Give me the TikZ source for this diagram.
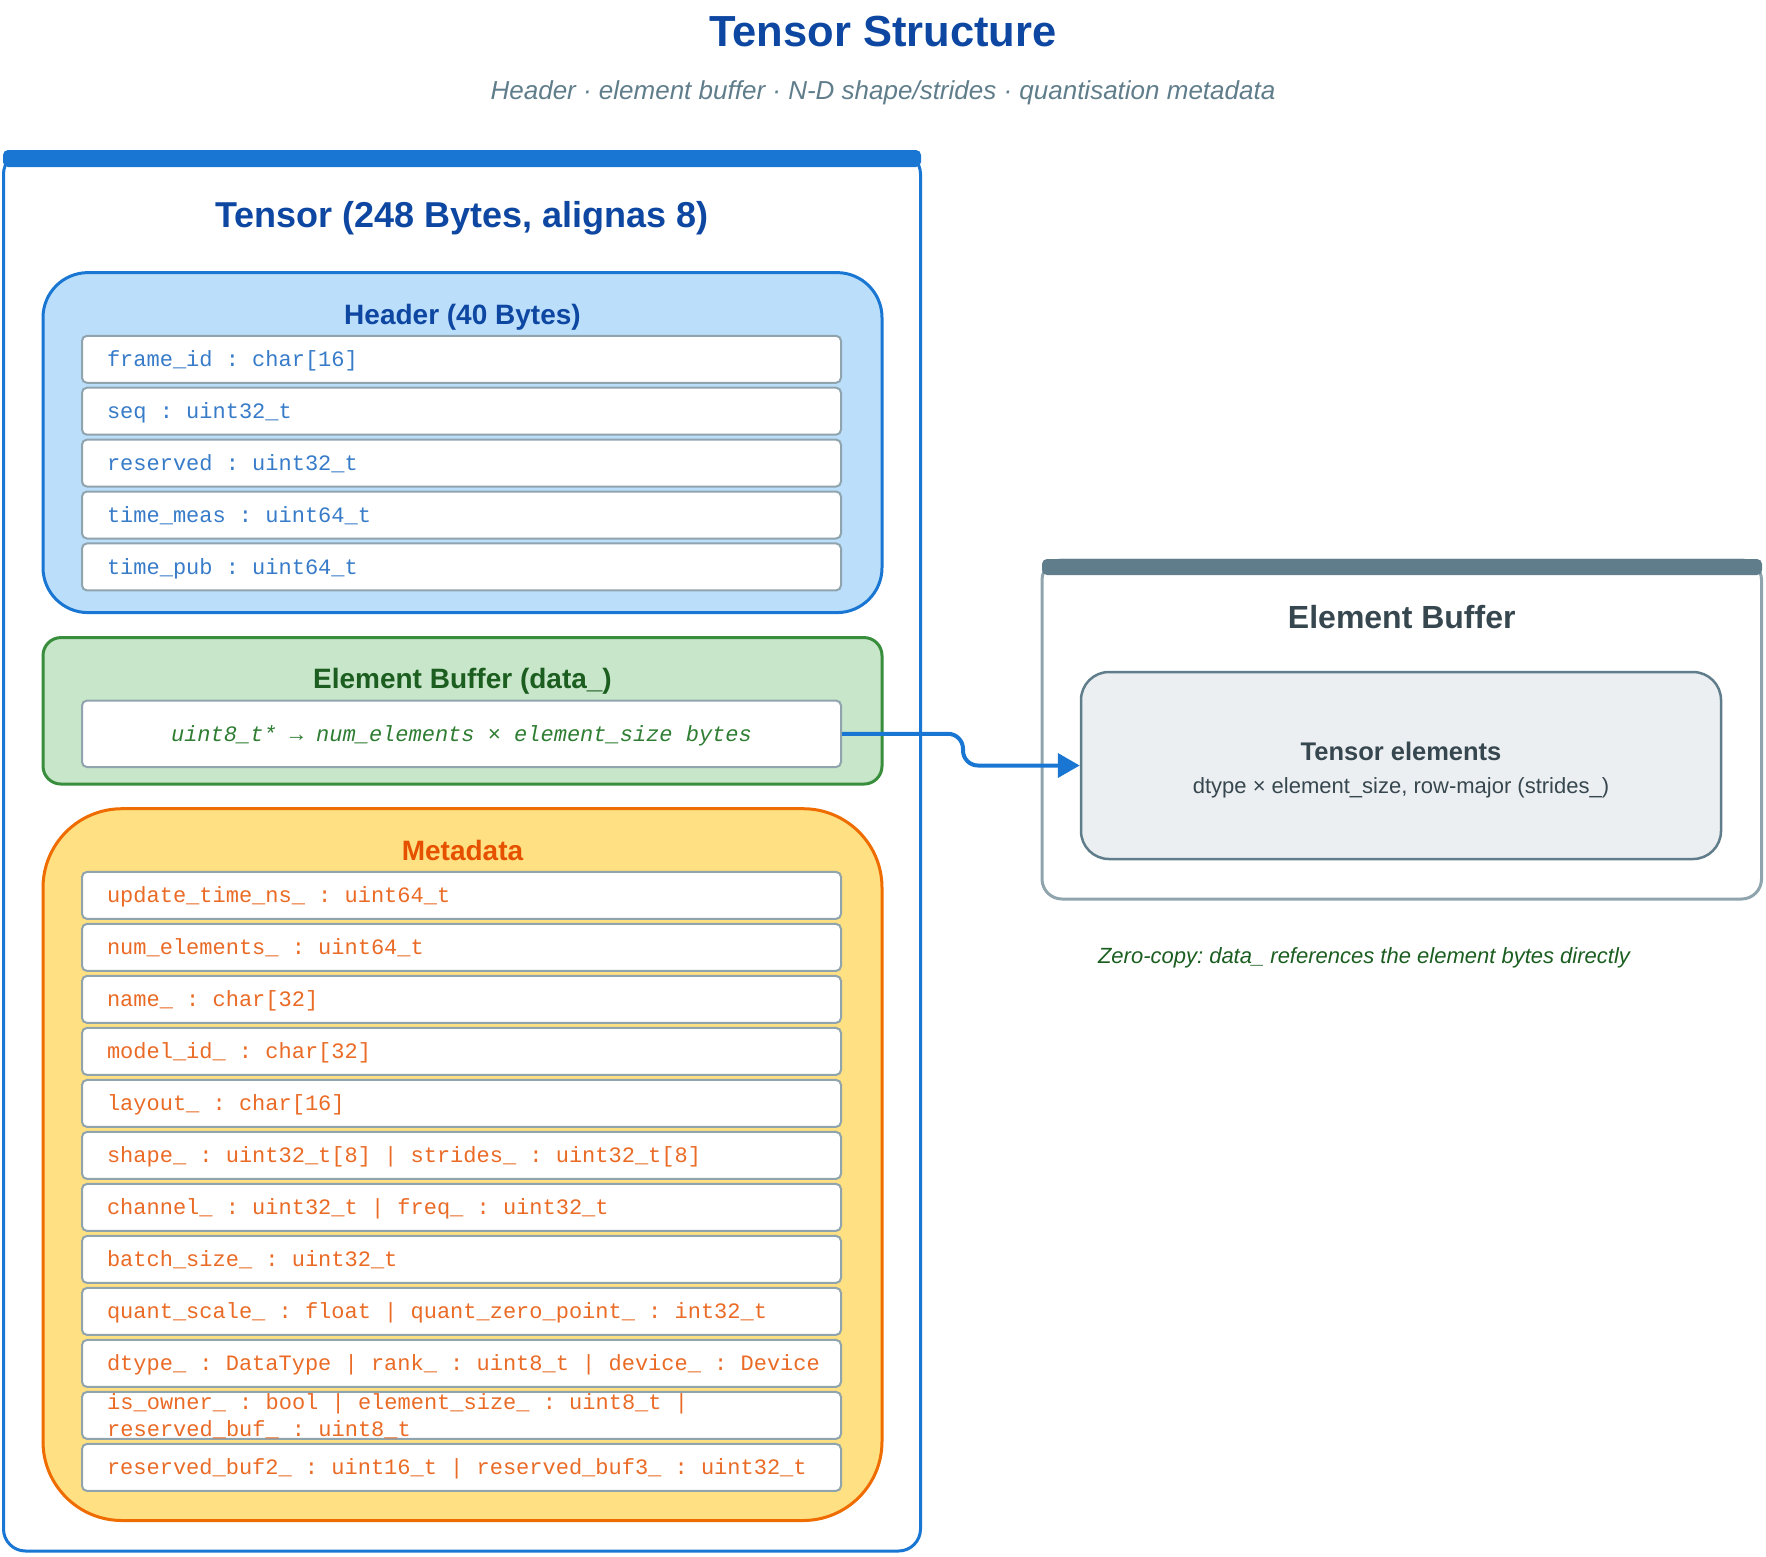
\documentclass[tikz,border=0pt]{standalone}
\usepackage{fontspec}
\setmainfont{Liberation Sans}
\setmonofont{Liberation Mono}
\usetikzlibrary{arrows.meta}

\definecolor{navy}{HTML}{0D47A1}
\definecolor{slate}{HTML}{607D8B}
\definecolor{tblue}{HTML}{1976D2}
\definecolor{hfill}{HTML}{BBDEFB}
\definecolor{htext}{HTML}{1565C0}
\definecolor{gfill}{HTML}{C8E6C9}
\definecolor{gdraw}{HTML}{388E3C}
\definecolor{gtext}{HTML}{1B5E20}
\definecolor{grow}{HTML}{2E7D32}
\definecolor{mfill}{HTML}{FFE082}
\definecolor{mdraw}{HTML}{EF6C00}
\definecolor{mtext}{HTML}{E65100}
\definecolor{rowline}{HTML}{90A4AE}
\definecolor{dark}{HTML}{37474F}
\definecolor{efill}{HTML}{ECEFF1}

\newcommand{\fsize}[1]{\fontsize{#1}{#1}\selectfont}
\newcommand{\monofont}{\ttfamily\fsize{22}\spaceskip=13.2pt\xspaceskip=13.2pt\relax}
\frenchspacing

\begin{document}
\begin{tikzpicture}[
  x=1pt, y=-1pt,
  heading/.style={anchor=base,inner sep=0pt,font=\bfseries\fsize{28}},
  field/.style={draw=rowline,fill=white,line width=2pt,rounded corners=5pt,text width=709pt,align=flush left,inner xsep=25pt,inner ysep=0pt,minimum height=47pt,text height=19.6pt,text depth=5pt,font=\monofont},
  hfield/.style={field,text=htext!85},
  mfield/.style={field,text=mtext!85},
  link/.style={draw=tblue,line width=4pt,rounded corners=15pt,-{Triangle[length=22pt,width=24pt]}}
]
  \useasboundingbox (0,0) rectangle (1766,1556);

  % titles
  \node[anchor=base,font=\bfseries\fsize{43.5},text=navy] (maintitle) at (883,46) {Tensor Structure};
  \node[anchor=base,font=\itshape\fsize{26},text=slate] (subtitle) at (883,99.5) {Header · element buffer · N-D shape/strides · quantisation metadata};

  % tensor struct
  \node[draw=tblue,line width=3pt,rounded corners=22pt,minimum width=917pt,minimum height=1399pt] (tensor) at (462,851.5) {};
  \fill[tblue,rounded corners=5pt] (3,150) rectangle (921,167);
  \node[heading,font=\bfseries\fsize{36},text=navy] (tensortitle) at (462,227) {Tensor (248 Bytes, alignas 8)};

  % header
  \node[draw=tblue,fill=hfill,line width=3pt,rounded corners=45pt,minimum width=839pt,minimum height=340pt] (hdr) at (462.5,442.6) {};
  \node[heading,text=navy] (hdrtitle) at (462.5,324) {Header (40 Bytes)};
  \node[hfield] (h1) at (461.5,359.3) {frame\_id : char[16]};
  \node[hfield] (h2) at (461.5,411.2) {seq : uint32\_t};
  \node[hfield] (h3) at (461.5,463.1) {reserved : uint32\_t};
  \node[hfield] (h4) at (461.5,515.0) {time\_meas : uint64\_t};
  \node[hfield] (h5) at (461.5,566.9) {time\_pub : uint64\_t};

  % element buffer
  \node[draw=gdraw,fill=gfill,line width=3pt,rounded corners=18pt,minimum width=839pt,minimum height=146.5pt] (buf) at (462.5,710.8) {};
  \node[heading,text=gtext] (buftitle) at (462.5,688) {Element Buffer (data\_)};
  \node[field,align=flush center,minimum height=66.5pt,text=grow,font=\monofont\itshape] (ebrow) at (461.5,733.8) {uint8\_t* → num\_elements × element\_size bytes};

  % metadata
  \node[draw=mdraw,fill=mfill,line width=3pt,rounded corners=79pt,minimum width=839pt,minimum height=711.8pt] (meta) at (462.5,1164.6) {};
  \node[heading,text=mtext] (metatitle) at (462.5,860.5) {Metadata};
  \node[mfield] (m1) at (461.5,895.4) {update\_time\_ns\_ : uint64\_t};
  \node[mfield] (m2) at (461.5,947.4) {num\_elements\_ : uint64\_t};
  \node[mfield] (m3) at (461.5,999.4) {name\_ : char[32]};
  \node[mfield] (m4) at (461.5,1051.4) {model\_id\_ : char[32]};
  \node[mfield] (m5) at (461.5,1103.4) {layout\_ : char[16]};
  \node[mfield] (m6) at (461.5,1155.4) {shape\_ : uint32\_t[8] | strides\_ : uint32\_t[8]};
  \node[mfield] (m7) at (461.5,1207.4) {channel\_ : uint32\_t | freq\_ : uint32\_t};
  \node[mfield] (m8) at (461.5,1259.4) {batch\_size\_ : uint32\_t};
  \node[mfield] (m9) at (461.5,1311.4) {quant\_scale\_ : float | quant\_zero\_point\_ : int32\_t};
  \node[mfield] (m10) at (461.5,1363.4) {\mbox{dtype\_ : DataType | rank\_ : uint8\_t | device\_ : Device}};
  \node[mfield] (m11) at (461.5,1415.4) {};
  \node[anchor=west,align=left,inner sep=0pt,text=mtext!85,font=\monofont\fontsize{22}{27}\selectfont] (m11text) at (107,1416) {is\_owner\_ : bool | element\_size\_ : uint8\_t |\\reserved\_buf\_ : uint8\_t};
  \node[mfield] (m12) at (461.5,1467.4) {reserved\_buf2\_ : uint16\_t | reserved\_buf3\_ : uint32\_t};

  % element buffer (target)
  \node[draw=rowline,line width=3pt,rounded corners=20pt,minimum width=719.5pt,minimum height=339pt] (target) at (1401.75,729.5) {};
  \fill[slate,rounded corners=5pt] (1042,559) rectangle (1762,575);
  \node[heading,font=\bfseries\fsize{32},text=dark] (targettitle) at (1401.75,628.5) {Element Buffer};
  \node[draw=slate,fill=efill,line width=2.5pt,rounded corners=28pt,minimum width=640pt,minimum height=187pt] (elems) at (1401,765.5) {};
  \node[heading,font=\bfseries\fsize{25.5},text=dark] (elemstitle) at (1401,760) {Tensor elements};
  \node[heading,font=\fsize{22},text=dark] (elemsnote) at (1401,793) {dtype × element\_size, row-major (strides\_)};

  \node[anchor=base,inner sep=0pt,font=\itshape\fsize{22},text=gtext] (zerocopy) at (1364,963) {Zero-copy: data\_ references the element bytes directly};

  \draw[link] (ebrow.east) -- ++(121,0) |- (elems.west);
\end{tikzpicture}
\end{document}
